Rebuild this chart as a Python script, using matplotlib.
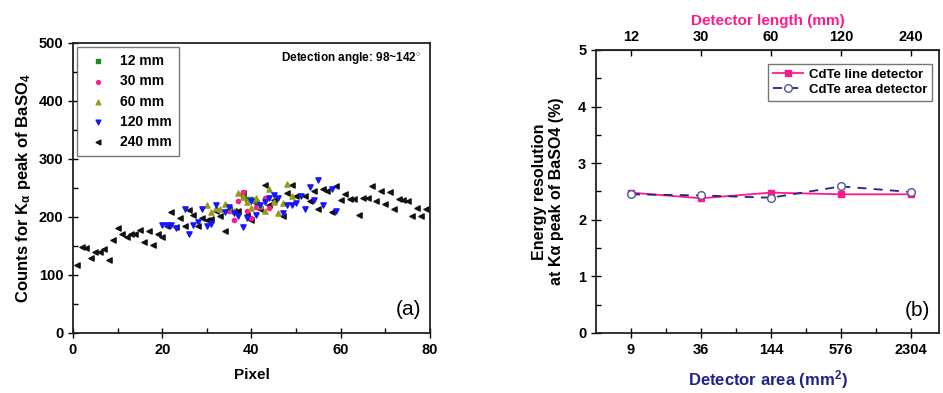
import matplotlib
matplotlib.use('Agg')
import matplotlib.pyplot as plt
from matplotlib.ticker import MultipleLocator

plt.rcParams['font.family'] = ['Liberation Sans', 'DejaVu Sans']
plt.rcParams['font.weight'] = 'bold'
plt.rcParams['mathtext.fontset'] = 'custom'
plt.rcParams['mathtext.rm'] = 'Liberation Sans:bold'
plt.rcParams['mathtext.bf'] = 'Liberation Sans:bold'
plt.rcParams['mathtext.it'] = 'Liberation Sans:bold'
plt.rcParams['mathtext.default'] = 'bf'

# ---- panel (a) data: counts per pixel for each detector length ----
px_12 = [38, 39, 40, 41]
cnt_12 = [234, 231, 231, 228]

px_30 = [35, 36, 37, 38, 39, 40, 41, 42, 43, 44]
cnt_30 = [211, 195, 227, 243, 210, 199, 217, 217, 232, 216]

px_60 = [30, 31, 32, 33, 34, 35, 36, 37, 38, 39, 40, 41, 42, 43, 44, 45, 46, 47, 48, 49]
cnt_60 = [221, 209, 215, 213, 223, 215, 210, 241, 234, 225, 215, 233, 220, 210, 249, 225,
          206, 224, 257, 236]

px_120 = [20, 21, 22, 23, 25, 26, 27, 28, 29, 30, 31, 32, 34, 35, 36, 37, 38, 39, 40, 41,
          42, 43, 44, 45, 46, 47, 48, 49, 50, 51, 52, 53, 54, 55, 56, 58, 59]
cnt_120 = [187, 187, 187, 181, 214, 171, 187, 192, 214, 185, 188, 220, 208, 218, 206, 201,
           183, 199, 228, 204, 221, 225, 232, 238, 233, 207, 220, 220, 224, 237, 213, 251,
           230, 264, 221, 248, 211]

px_240 = [1, 2, 3, 4, 5, 6, 7, 8, 9, 10, 11, 12, 13, 14, 15, 16, 17, 18, 19, 20,
          21, 22, 23, 24, 25, 26, 27, 28, 29, 30, 31, 32, 33, 34, 35, 36, 37, 38, 39, 40,
          41, 42, 43, 44, 45, 47, 48, 49, 50, 52, 53, 54, 55, 56, 57, 58, 59, 60,
          61, 62, 63, 64, 65, 66, 67, 68, 69, 70, 71, 72, 73, 74, 75, 76, 77, 78, 79]
cnt_240 = [117, 149, 146, 129, 140, 140, 145, 125, 161, 181, 170, 166, 171, 171, 178, 156,
           175, 151, 170, 166, 184, 209, 183, 198, 184, 212, 203, 184, 199, 194, 197, 211,
           201, 176, 213, 211, 211, 241, 204, 194, 224, 213, 255, 221, 229, 202, 241, 255,
           237, 237, 227, 244, 214, 248, 245, 208, 253, 230, 239, 231, 231, 203, 233, 232,
           253, 228, 245, 222, 243, 214, 231, 229, 227, 202, 216, 202, 214]

# ---- panel (b) data ----
area_labels = ['9', '36', '144', '576', '2304']
length_labels = ['12', '30', '60', '120', '240']
res_line = [2.48, 2.38, 2.48, 2.45, 2.45]
res_area = [2.45, 2.43, 2.39, 2.59, 2.49]

pink = '#FF1A8C'
navy = '#22228A'

fig = plt.figure(figsize=(9.43, 3.93), dpi=100)
ax1 = fig.add_axes([0.0774, 0.1527, 0.3786, 0.738])
ax2 = fig.add_axes([0.632, 0.1527, 0.3638, 0.7201])

# panel (a)
ms = 14
ax1.scatter(px_12, cnt_12, marker='s', s=6, color='#1E8C1E', label='12 mm', zorder=3)
ax1.scatter(px_30, cnt_30, marker='o', s=9, color='#FF1A8C', label='30 mm', zorder=3)
ax1.scatter(px_60, cnt_60, marker='^', s=ms, color='#9A9A1A', label='60 mm', zorder=3)
ax1.scatter(px_120, cnt_120, marker='v', s=ms, color='#1414FF', label='120 mm', zorder=3)
ax1.scatter(px_240, cnt_240, marker='<', s=ms, color='#111111', label='240 mm', zorder=2)
ax1.set_xlim(0, 80)
ax1.set_ylim(0, 500)
ax1.xaxis.set_major_locator(MultipleLocator(20))
ax1.xaxis.set_minor_locator(MultipleLocator(10))
ax1.yaxis.set_major_locator(MultipleLocator(100))
ax1.yaxis.set_minor_locator(MultipleLocator(50))
ax1.set_xlabel('Pixel', fontsize=11, fontweight='bold', labelpad=8)
ax1.set_ylabel('Counts for K$_{\\alpha}$ peak of BaSO$_4$', fontsize=12, fontweight='bold')
leg1 = ax1.legend(loc='upper left', fontsize=10, frameon=True, fancybox=False,
                  edgecolor='#555555', handletextpad=0.6, labelspacing=0.45,
                  markerscale=0.9, borderpad=0.5, bbox_to_anchor=(0.0, 1.0),
                  borderaxespad=0.3)
leg1.get_frame().set_linewidth(1.0)
ax1.text(0.975, 0.948, 'Detection angle: 98~142$^{\\circ}$', transform=ax1.transAxes,
         ha='right', va='center', fontsize=8.5, fontweight='bold')
ax1.text(0.975, 0.08, '(a)', transform=ax1.transAxes, ha='right', va='center',
         fontsize=15, fontweight='normal')

# panel (b)
xs = list(range(len(area_labels)))
ax2.plot(xs, res_line, color=pink, lw=1.3, marker='s', ms=5, mfc=pink, mec=pink,
         label='CdTe line detector', zorder=3)
ax2.plot(xs, res_area, color=navy, lw=1.3, ls=(0, (5, 4)), marker='o', ms=5.5,
         mfc='white', mec='#555599', label='CdTe area detector', zorder=4)
ax2.set_xlim(-0.5, 4.4)
ax2.set_ylim(0, 5)
ax2.set_xticks(xs)
ax2.set_xticklabels(area_labels)
ax2.set_xticks([0.5, 1.5, 2.5, 3.5], minor=True)
ax2.yaxis.set_major_locator(MultipleLocator(1))
ax2.yaxis.set_minor_locator(MultipleLocator(0.5))
ax2.set_xlabel('Detector area (mm$^2$)', fontsize=12, fontweight='bold', color=navy,
               labelpad=8)
ax2.set_ylabel('Energy resolution\nat K\u03b1 peak of BaSO4 (%)', fontsize=11.5,
               fontweight='bold', labelpad=10)
leg2 = ax2.legend(loc='upper right', fontsize=9.5, frameon=True, fancybox=False,
                  edgecolor='#555555', handlelength=2.3, handletextpad=0.5,
                  labelspacing=0.25, borderpad=0.35, bbox_to_anchor=(1.0, 0.975))
leg2.get_frame().set_linewidth(1.0)
ax2.text(0.975, 0.08, '(b)', transform=ax2.transAxes, ha='right', va='center',
         fontsize=15, fontweight='normal')

top = ax2.secondary_xaxis('top')
top.set_xticks(xs)
top.set_xticklabels(length_labels)
top.tick_params(axis='x', direction='in', length=4, width=1.0, labelsize=10.5, pad=4)
top.set_xlabel('Detector length (mm)', fontsize=11, fontweight='bold', color=pink,
               labelpad=4)

for ax in (ax1, ax2):
    for sp in ax.spines.values():
        sp.set_linewidth(1.3)
        sp.set_color('#222222')
    ax.tick_params(which='major', direction='inout', length=7, width=1.0, labelsize=10.5)
    ax.tick_params(which='minor', direction='in', length=3.5, width=1.0)
    ax.tick_params(top=False, right=False, which='both')
    for lab in ax.get_xticklabels() + ax.get_yticklabels():
        lab.set_fontweight('bold')

for lab in top.get_xticklabels():
    lab.set_fontweight('bold')

fig.savefig('out.png', dpi=100)
